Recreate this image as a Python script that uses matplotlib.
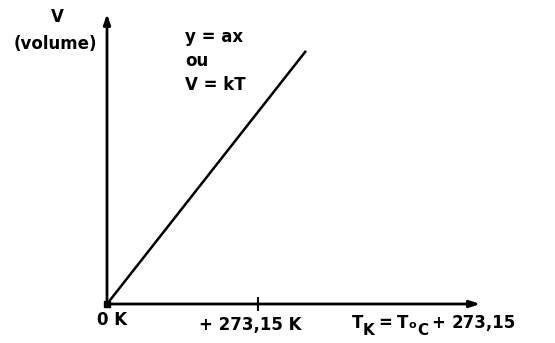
import matplotlib
matplotlib.use("Agg")
import matplotlib.pyplot as plt

# Loi de Charles : V proportionnel à T (en kelvin)
T = [0, 360]          # température (K)
V = [0, 458]          # volume (unités arbitraires)
tick_T = 273.15
x_max = 675           # fin de l'axe des températures
y_max = 525           # fin de l'axe des volumes

fig = plt.figure(figsize=(5.55, 3.43), dpi=100)
ax = fig.add_axes([0, 0, 1, 1])
s = 273.15 / 151
ax.set_xlim(-107 * s, 448 * s)
ax.set_ylim(-39 * s, 304 * s)
ax.axis('off')

# axes avec flèches
arrow = dict(arrowstyle='-|>,head_length=0.6,head_width=0.2', lw=2, color='black',
             shrinkA=0, shrinkB=0)
ax.annotate('', xy=(x_max, 0), xytext=(0, 0), arrowprops=arrow)
ax.annotate('', xy=(0, y_max), xytext=(0, 0), arrowprops=arrow)

# droite V = kT
ax.plot(T, V, color='black', lw=1.8, solid_capstyle='butt')
ax.plot([0], [0], marker='s', ms=5, color='black')
ax.plot([tick_T, tick_T], [-10, 10], color='black', lw=1.5)

font = dict(fontsize=12, fontweight='bold', color='black', va='baseline')
ax.text(-90, 510, 'V', ha='center', **font)
ax.text(-94, 461, '(volume)', ha='center', **font)
ax.text(141, 474, 'y = ax', ha='left', **font)
ax.text(141, 430, 'ou', ha='left', **font)
ax.text(141, 387, 'V = kT', ha='left', **font)
ax.text(-18, -38, '0 K', ha='left', **font)
ax.text(tick_T - 14, -47, '+ 273,15 K', ha='center', **font)

# T_K = T_°C + 273,15, morceau par morceau
sub = dict(font, fontsize=11)
ax.text(443, -43, 'T', ha='left', **font)
ax.text(463, -56, 'K', ha='left', **sub)
ax.text(491, -43, '=', ha='left', **font)
ax.text(525, -43, 'T', ha='left', **font)
ax.text(546, -43, 'o', ha='left', **dict(font, fontsize=8))
ax.text(562, -56, 'C', ha='left', **sub)
ax.text(587, -43, '+', ha='left', **font)
ax.text(623, -43, '273,15', ha='left', **font)

fig.savefig('out.png', dpi=100)
